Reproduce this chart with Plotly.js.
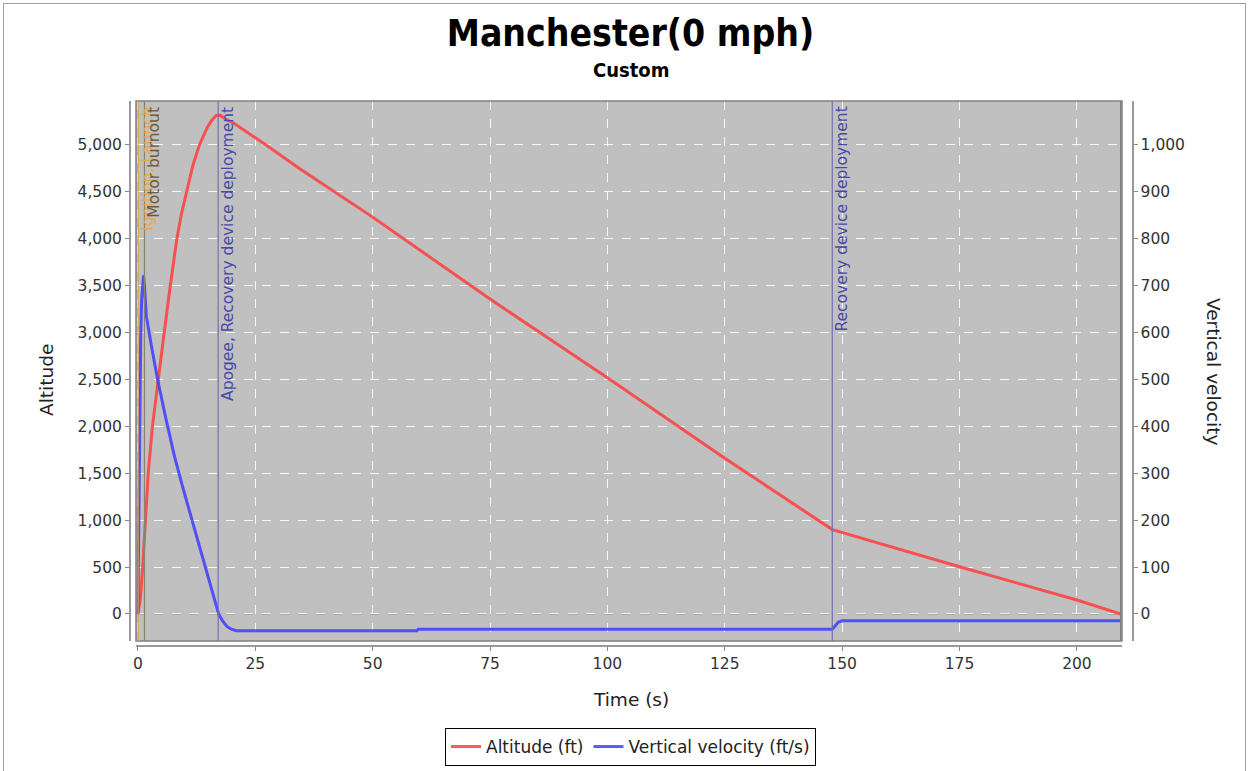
<!DOCTYPE html>
<html>
<head>
<meta charset="utf-8">
<script src="https://cdn.plot.ly/plotly-3.0.1.min.js"></script>
<style>
  html, body { margin: 0; padding: 0; background: #ffffff; }
  #chart { width: 1251px; height: 771px; }
  #frame { position: absolute; left: 3px; top: 3px; width: 1241px; height: 800px;
           border: 1px solid #a0a0a0; pointer-events: none; }
</style>
</head>
<body>
<div id="chart"></div>
<div id="frame"></div>
<script>
// ---- Data ----
const chartTitle = "Manchester(0 mph)";
const chartSubtitle = "Custom";

const altTime = [0, 0.5, 1.0, 1.6, 2.2, 3.1, 4.3, 5.6, 6.9, 8.3, 9.3, 10.4, 11.7, 13.1, 14.8, 15.8, 16.7, 17.5, 18.8, 20.2, 27.3, 34.4, 50, 75, 100, 125, 147.9, 175, 200, 209.3];
const altitudeFt = [0, 150, 480, 1000, 1500, 2000, 2500, 3000, 3500, 4000, 4270, 4500, 4780, 5000, 5190, 5268, 5315, 5318, 5272, 5240, 5000, 4750, 4231, 3357, 2518, 1660, 900, 504, 149, 0];

const velTime = [0, 0.15, 0.3, 0.45, 0.6, 0.8, 1.0, 1.2, 1.4, 1.8, 3.0, 4.2, 6.0, 7.8, 9.5, 11.3, 13.0, 14.9, 16.0, 17.2, 18.0, 19.0, 20.0, 21.0, 59.4, 59.7, 147.9, 148.5, 149.2, 150, 209.3];
const verticalVelocity = [0, 150, 330, 480, 590, 670, 710, 722, 700, 635, 565, 500, 415, 336, 272, 208, 148, 84, 46, 0, -14, -27, -33, -35.7, -35.7, -32.7, -32.7, -26, -17, -14.5, -14.5];

const eventTimes = [0.05, 1.4, 17.1, 147.9, 209.3];
const eventLabels = ["Ignition, Launch", "Motor burnout", "Apogee, Recovery device deployment", "Recovery device deployment", ""];
const eventLineColors = ["#e8a040", "#8c8070", "#7272b4", "#7272b4", "#808080"];
const eventTextColors = ["#e8a850", "#6b5b45", "#4848a8", "#4848a8", "#606060"];

const xTicks = [0, 25, 50, 75, 100, 125, 150, 175, 200];
const altTicks = [0, 500, 1000, 1500, 2000, 2500, 3000, 3500, 4000, 4500, 5000];
const velTicks = [0, 100, 200, 300, 400, 500, 600, 700, 800, 900, 1000];

// ---- Layout geometry ----
const W = 1251, H = 771;
const ML = 129, MR = W - 1132, MT = 101, MB = H - 645;
const PW = W - ML - MR, PH = H - MT - MB;
const px2fx = p => (p - ML) / PW;
const py2fy = p => (H - MB - p) / PH;

const font = "DejaVu Sans, Verdana, sans-serif";
const tickFont = { family: font, size: 15.5, color: "#333333" };

const traces = [
  { x: altTime, y: altitudeFt, type: "scatter", mode: "lines", name: "Altitude (ft)",
    line: { color: "rgba(255,60,60,0.85)", width: 3 }, xaxis: "x", yaxis: "y" },
  { x: velTime, y: verticalVelocity, type: "scatter", mode: "lines", name: "Vertical velocity (ft/s)",
    line: { color: "rgba(60,60,255,0.85)", width: 3 }, xaxis: "x", yaxis: "y2" }
];

const shapes = [
  { type: "line", xref: "x domain", yref: "y", x0: 0, x1: 1, y0: 0, y1: 0,
    line: { color: "#8c8c8c", width: 1, dash: "dash" }, layer: "below" },
  { type: "rect", xref: "x domain", yref: "y domain", x0: 0, x1: 1, y0: 0, y1: 1,
    line: { color: "#808080", width: 1.5 } }
];
const annotations = [];
eventTimes.forEach((t, i) => {
  shapes.push({ type: "line", xref: "x", yref: "y domain", x0: t, x1: t, y0: 0, y1: 1,
    line: { color: eventLineColors[i], width: 1.2 } });
  if (eventLabels[i]) {
    annotations.push({ xref: "x", yref: "y domain", x: t, y: 0.993, text: eventLabels[i],
      textangle: -90, xanchor: "left", yanchor: "top", showarrow: false, xshift: -1,
      font: { family: font, size: 15.5, color: eventTextColors[i] } });
  }
});

annotations.push(
  { xref: "paper", yref: "paper", x: 0.5, y: py2fy(70), text: "<b>" + chartSubtitle + "</b>",
    showarrow: false, xanchor: "center", yanchor: "middle",
    font: { family: "DejaVu Sans Condensed, DejaVu Sans, sans-serif", size: 20, color: "#000" } },
  { xref: "paper", yref: "paper", x: px2fx(46), y: py2fy(380), text: "Altitude", textangle: -90,
    showarrow: false, xanchor: "center", yanchor: "middle", font: { family: font, size: 18.5, color: "#222" } },
  { xref: "paper", yref: "paper", x: px2fx(1214), y: py2fy(371), text: "Vertical velocity", textangle: 90,
    showarrow: false, xanchor: "center", yanchor: "middle", font: { family: font, size: 18.5, color: "#222" } },
  { xref: "paper", yref: "paper", x: 0.5, y: py2fy(699), text: "Time (s)",
    showarrow: false, xanchor: "center", yanchor: "middle", font: { family: font, size: 18.5, color: "#222" } }
);

const layout = {
  width: W, height: H,
  margin: { l: ML, r: MR, t: MT, b: MB, pad: 0, autoexpand: false },
  paper_bgcolor: "#ffffff",
  plot_bgcolor: "#c0c0c0",
  title: { text: "<b>" + chartTitle + "</b>", x: 0.5, xref: "paper", xanchor: "center",
           y: 1 - 33 / H, yref: "container", yanchor: "middle",
           font: { family: "DejaVu Sans Condensed, DejaVu Sans, sans-serif", size: 37, color: "#000" } },
  showlegend: true,
  legend: { orientation: "h", x: 0.5, xanchor: "center", y: py2fy(728), yanchor: "top",
            bordercolor: "#000", borderwidth: 1, bgcolor: "#fff",
            font: { family: font, size: 17, color: "#222" }, itemwidth: 30,
            tracegroupgap: 0, valign: "middle" },
  xaxis: {
    domain: [px2fx(136), px2fx(1122)], anchor: "free", position: 0,
    range: [-0.4, 209.6], tickvals: xTicks, ticktext: xTicks.map(String),
    ticks: "outside", ticklen: 4, tickcolor: "#888", tickfont: tickFont,
    showline: true, linecolor: "#999", linewidth: 1.5, mirror: false,
    showgrid: true, gridcolor: "rgba(255,255,255,0.85)", griddash: "dash", gridwidth: 1,
    zeroline: false
  },
  yaxis: {
    domain: [py2fy(641), 1], anchor: "free", position: 0, side: "left",
    range: [-288, 5469], tickvals: altTicks, tickformat: ",d",
    ticks: "outside", ticklen: 4, tickcolor: "#888", tickfont: tickFont,
    showline: true, linecolor: "#999", linewidth: 1.5,
    showgrid: true, gridcolor: "rgba(255,255,255,0.85)", griddash: "dash", gridwidth: 1,
    zeroline: false
  },
  yaxis2: {
    overlaying: "y", anchor: "free", position: 1, side: "right",
    range: [-57.6, 1093.8], tickvals: velTicks, tickformat: ",d",
    ticks: "outside", ticklen: 4, tickcolor: "#888", tickfont: tickFont,
    showline: true, linecolor: "#999", linewidth: 1.5,
    showgrid: false, zeroline: false
  },
  shapes: shapes,
  annotations: annotations
};

Plotly.newPlot("chart", traces, layout, { displayModeBar: false, staticPlot: true });
</script>
</body>
</html>
